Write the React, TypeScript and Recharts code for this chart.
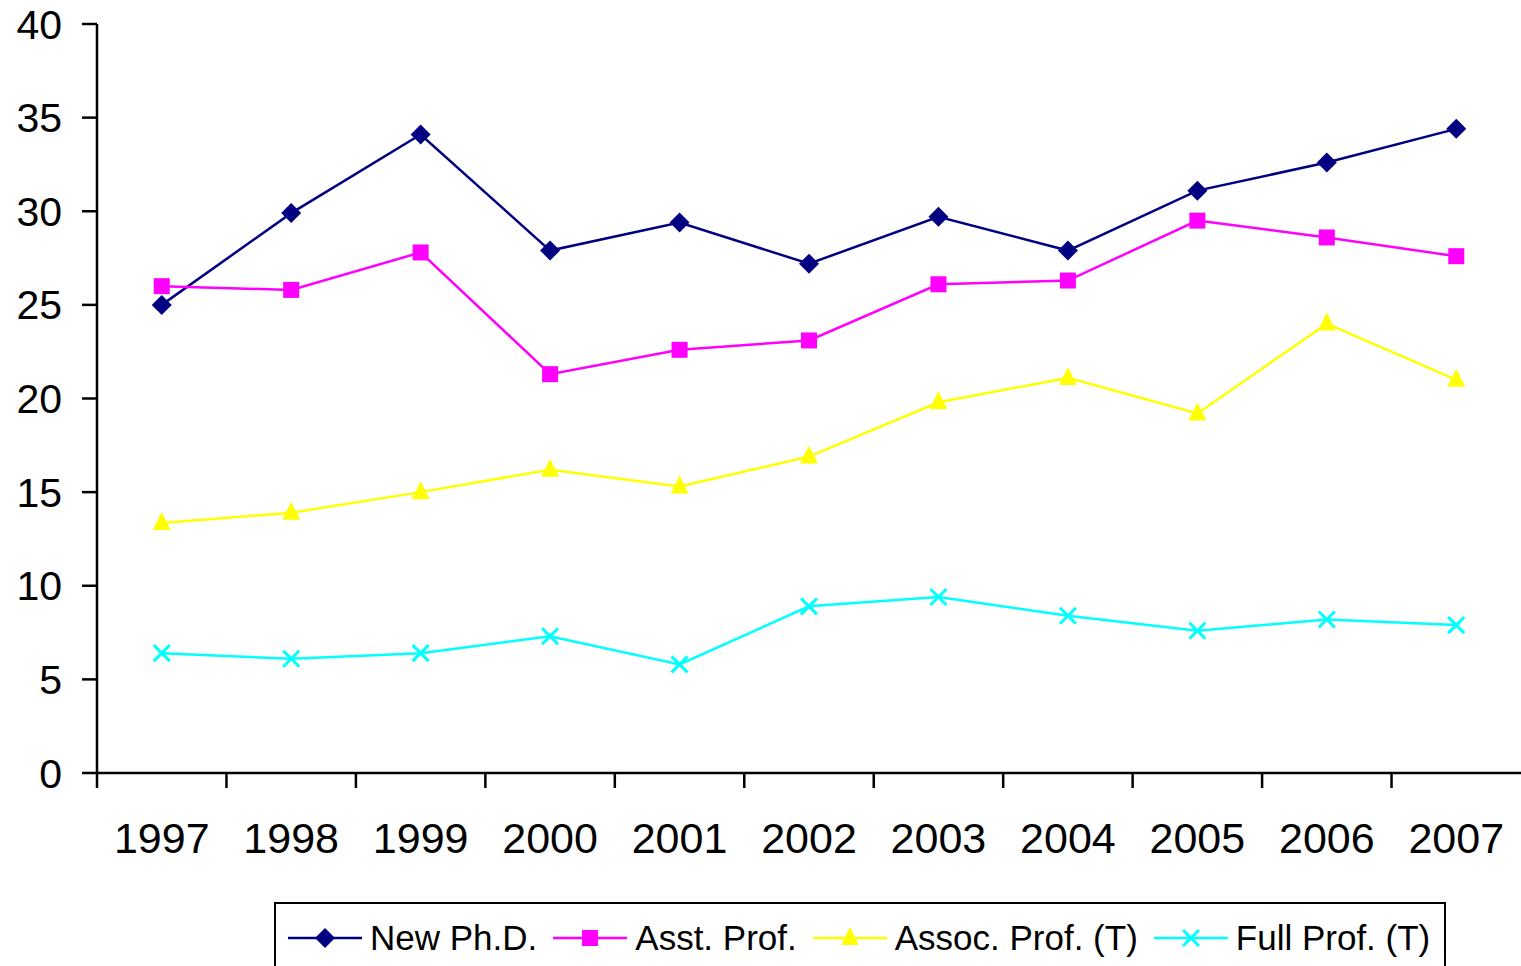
import React from 'react';
import { LineChart, Line, XAxis, YAxis } from 'recharts';

const years = ['1997', '1998', '1999', '2000', '2001', '2002', '2003', '2004', '2005', '2006', '2007'];
const newPhd = [25.0, 29.9, 34.1, 27.9, 29.4, 27.2, 29.7, 27.9, 31.1, 32.6, 34.4];
const asstProf = [26.0, 25.8, 27.8, 21.3, 22.6, 23.1, 26.1, 26.3, 29.5, 28.6, 27.6];
const assocProf = [13.35, 13.9, 15.0, 16.2, 15.3, 16.9, 19.8, 21.1, 19.2, 24.0, 21.0];
const fullProf = [6.4, 6.1, 6.4, 7.3, 5.8, 8.9, 9.4, 8.4, 7.6, 8.2, 7.9];
const yTicks = [0, 5, 10, 15, 20, 25, 30, 35, 40];

const data = years.map((year, i) => ({
  year,
  newPhd: newPhd[i],
  asstProf: asstProf[i],
  assocProf: assocProf[i],
  fullProf: fullProf[i],
}));

const WIDTH = 1521;
const HEIGHT = 966;
const LEFT = 97;
const TOP = 24;
const PLOT_H = 749;
const PLOT_W = WIDTH - LEFT;
const HALF_BAND = PLOT_W / years.length / 2;
const FONT = '"Liberation Sans", Arial, sans-serif';

type Shape = 'diamond' | 'square' | 'triangle' | 'cross';

const Marker = ({ cx, cy, shape, color }: { cx: number; cy: number; shape: Shape; color: string }) => {
  if (cx == null || cy == null) return null;
  switch (shape) {
    case 'diamond':
      return <polygon points={`${cx},${cy - 10} ${cx + 10},${cy} ${cx},${cy + 10} ${cx - 10},${cy}`} fill={color} />;
    case 'square':
      return <rect x={cx - 8} y={cy - 8} width={16} height={16} fill={color} />;
    case 'triangle':
      return <polygon points={`${cx},${cy - 11} ${cx + 9},${cy + 7} ${cx - 9},${cy + 7}`} fill={color} />;
    default:
      return (
        <g stroke={color} strokeWidth={3}>
          <line x1={cx - 8} y1={cy - 8} x2={cx + 8} y2={cy + 8} />
          <line x1={cx - 8} y1={cy + 8} x2={cx + 8} y2={cy - 8} />
        </g>
      );
  }
};

const series: { key: string; name: string; color: string; shape: Shape }[] = [
  { key: 'newPhd', name: 'New Ph.D.', color: '#000080', shape: 'diamond' },
  { key: 'asstProf', name: 'Asst. Prof.', color: '#FF00FF', shape: 'square' },
  { key: 'assocProf', name: 'Assoc. Prof. (T)', color: '#FFFF00', shape: 'triangle' },
  { key: 'fullProf', name: 'Full Prof. (T)', color: '#00FFFF', shape: 'cross' },
];

const YearTick = ({ x, y, payload }: any) => (
  <g>
    <line x1={x - HALF_BAND} y1={y - 15} x2={x - HALF_BAND} y2={y} stroke="#000" strokeWidth={2.5} />
    <text x={x} y={y + 65} textAnchor="middle" fill="#000" fontSize={43} fontFamily={FONT}>
      {payload.value}
    </text>
  </g>
);

const LegendBox = () => (
  <div
    style={{
      position: 'absolute',
      left: 274,
      top: 902,
      width: 1172,
      height: 72,
      border: '2px solid #000',
      display: 'flex',
      alignItems: 'flex-start',
      paddingTop: 16,
      boxSizing: 'border-box',
      fontFamily: FONT,
      fontSize: 35,
      color: '#000',
    }}
  >
    {series.map((s, i) => (
      <div key={s.key} style={{ display: 'flex', alignItems: 'center', marginLeft: i === 0 ? 12 : 16 }}>
        <svg width={74} height={30} style={{ marginRight: 8 }}>
          <line x1={0} y1={15} x2={74} y2={15} stroke={s.color} strokeWidth={2.5} />
          <Marker cx={37} cy={15} shape={s.shape} color={s.color} />
        </svg>
        <span style={{ lineHeight: '36px' }}>{s.name}</span>
      </div>
    ))}
  </div>
);

export default function App() {
  return (
    <div style={{ position: 'absolute', left: 0, top: 0, width: WIDTH, height: HEIGHT, background: '#fff', overflow: 'hidden' }}>
      <LineChart
        width={WIDTH}
        height={HEIGHT}
        data={data}
        margin={{ top: TOP, right: 0, left: 0, bottom: 0 }}
      >
        <XAxis
          dataKey="year"
          height={HEIGHT - TOP - PLOT_H}
          padding={{ left: HALF_BAND, right: HALF_BAND }}
          axisLine={{ stroke: '#000', strokeWidth: 2.5 }}
          tickLine={false}
          tickSize={15}
          tickMargin={0}
          tick={<YearTick />}
          interval={0}
        />
        <YAxis
          width={LEFT}
          domain={[0, 40]}
          ticks={yTicks}
          interval={0}
          axisLine={{ stroke: '#000', strokeWidth: 2.5 }}
          tickLine={{ stroke: '#000', strokeWidth: 2.5 }}
          tickSize={15}
          tickMargin={20}
          tick={{ fill: '#000', fontSize: 41, fontFamily: FONT }}
        />
        {series.map((s) => (
          <Line
            key={s.key}
            dataKey={s.key}
            name={s.name}
            type="linear"
            stroke={s.color}
            strokeWidth={2.5}
            dot={(p: any) => <Marker key={`${s.key}-${p.index}`} cx={p.cx} cy={p.cy} shape={s.shape} color={s.color} />}
            activeDot={false}
            isAnimationActive={false}
          />
        ))}
      </LineChart>
      <LegendBox />
    </div>
  );
}
